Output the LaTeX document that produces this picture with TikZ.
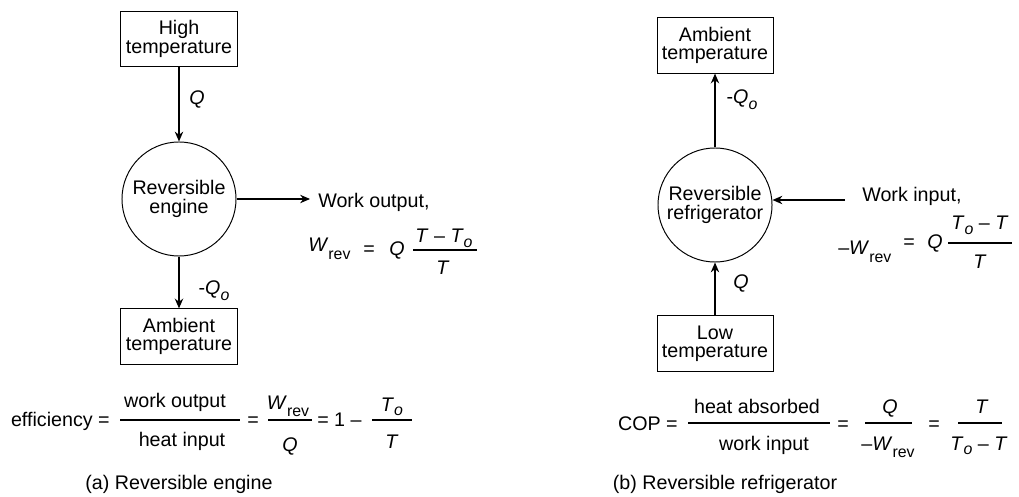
\documentclass[tikz,border=0pt]{standalone}
\usepackage{fontspec}
\setmainfont{Liberation Sans}
\usetikzlibrary{arrows.meta}
\newcommand{\lowsub}[2]{\raisebox{-#1}{\fontsize{11.3}{12}\selectfont #2}}
\newcommand{\Wrev}{\textit{W}\lowsub{5.5pt}{rev}}
\newcommand{\To}{\textit{T}\lowsub{3pt}{\textit{o}}}
\newcommand{\Qo}{\textit{Q}\lowsub{4pt}{\textit{o}}}

\begin{document}
\begin{tikzpicture}[x=0.025cm,y=-0.025cm,
	font=\fontsize{14}{13}\selectfont,
	box/.style={draw,line width=0.7pt,minimum width=2.9cm,minimum height=1.38cm,align=center,inner sep=1pt},
	machine/.style={draw,circle,line width=0.7pt,minimum size=2.85cm,align=center,inner sep=0pt},
	flow/.style={thick,-{Stealth[length=7pt,width=6pt]}},
	txt/.style={anchor=base,inner sep=0pt},
	fracbar/.style={line width=0.9pt}]
		\useasboundingbox (0,0) rectangle (1019,497);
		% (a) reversible engine
		\node[box] (hot) at (179,39) {High\\temperature};
		\node[machine] (eng) at (179,199) {Reversible\\engine};
		\node[box] (amb) at (179,336.5) {Ambient\\temperature};
		\draw[flow] (hot) -- (eng);
		\draw[flow] (eng) -- (amb);
		\node[txt] (qhot) at (197,105) {\textit{Q}};
		\node[txt] (qamb) at (214,295) {-\Qo};
		\node[txt,anchor=base west] (wout) at (318,208) {Work output,};
		\coordinate (wtip) at (310,199);
		\draw[flow] (eng) -- (wtip);
		\node[txt,anchor=base west] (wl) at (308,252) {\Wrev};
		\node[txt] (eql) at (369,256) {=};
		\node[txt] (ql) at (397,256) {\textit{Q}};
		\draw[fracbar] (413,250) -- (477,250);
		\node[txt] (nl) at (444,243) {\textit{T} – \To};
		\node[txt] (dl) at (443,275) {\textit{T}};
		\node[txt,anchor=base east] (eff) at (110,427) {efficiency =};
		\draw[fracbar] (120,420) -- (240,420);
		\node[txt] (n1) at (175,408) {work output};
		\node[txt] (d1) at (182,446) {heat input};
		\node[txt] (e2) at (253,427) {=};
		\draw[fracbar] (268,420) -- (312,420);
		\node[txt] (n2) at (288,409) {\Wrev};
		\node[txt] (d2) at (290,451) {\textit{Q}};
		\node[txt,anchor=base west] (e3) at (317,427) {= 1 –};
		\draw[fracbar] (372,420) -- (412,420);
		\node[txt] (n3) at (392,411) {\To};
		\node[txt] (d3) at (392,449) {\textit{T}};
		\node[txt] (capa) at (179,489) {(a) Reversible engine};
		% (b) reversible refrigerator
		\node[box] (amb2) at (715,45.5) {Ambient\\temperature};
		\node[machine] (ref) at (715,205) {Reversible\\refrigerator};
		\node[box] (low) at (715,343.5) {Low\\temperature};
		\draw[flow] (ref) -- (amb2);
		\draw[flow] (low) -- (ref);
		\node[txt] (qo2) at (742,104) {-\Qo};
		\node[txt] (q2) at (741,289) {\textit{Q}};
		\node[txt,anchor=base west] (win) at (862,202) {Work input,};
		\coordinate (wsrc) at (845,200);
		\draw[flow] (wsrc) -- (wsrc -| ref.east);
		\node[txt,anchor=base west] (wr) at (838,255) {–\Wrev};
		\node[txt] (eqr) at (909,249) {=};
		\node[txt] (qr) at (935,249) {\textit{Q}};
		\draw[fracbar] (948,243) -- (1012,243);
		\node[txt] (nr) at (980,230) {\To{} – \textit{T}};
		\node[txt] (dr) at (980,269) {\textit{T}};
		\node[txt,anchor=base east] (cop) at (678,430) {COP =};
		\draw[fracbar] (688,423) -- (830,423);
		\node[txt] (n4) at (757,413) {heat absorbed};
		\node[txt] (d4) at (764,450) {work input};
		\node[txt] (e5) at (843,430) {=};
		\draw[fracbar] (865,423) -- (912,423);
		\node[txt] (n5) at (890,414) {\textit{Q}};
		\node[txt] (d5) at (888,450) {–\Wrev};
		\node[txt] (e6) at (934,430) {=};
		\draw[fracbar] (958,423) -- (1002,423);
		\node[txt] (n6) at (982,413) {\textit{T}};
		\node[txt] (d6) at (979,450) {\To{} – \textit{T}};
		\node[txt] (capb) at (725,489) {(b) Reversible refrigerator};
\end{tikzpicture}
\end{document}
